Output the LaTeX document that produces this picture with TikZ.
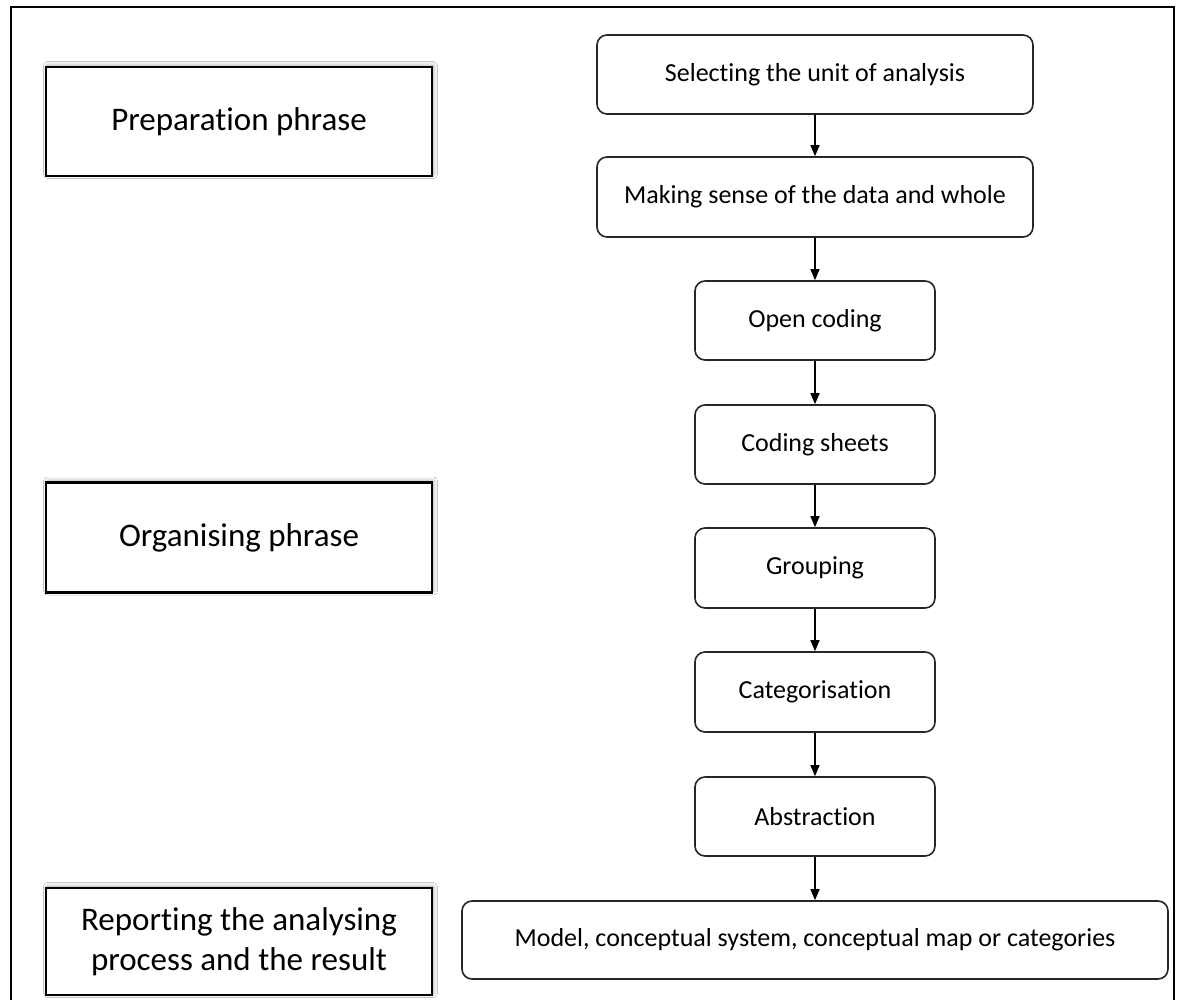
\documentclass[tikz,border=0pt]{standalone}
\usepackage{fontspec}
\setmainfont{Carlito}[Ligatures={NoCommon}]
\usetikzlibrary{arrows.meta,shadows.blur}
\tikzset{
  phasebox/.style={draw=black, line width=2.4pt, fill=white, inner sep=0pt,
    align=center, font=\fontsize{33}{40}\selectfont,
    blur shadow={shadow xshift=1.5pt, shadow yshift=1.5pt, shadow blur radius=4pt, shadow blur steps=8, shadow opacity=35}},
  stepbox/.style={draw=black!85, line width=1.6pt, rounded corners=10pt, fill=white,
    inner sep=0pt, align=center, font=\fontsize{26}{31}\selectfont},
  flow/.style={line width=1.3pt, -{Triangle[length=11pt,width=9pt]}},
  frameline/.style={line width=2pt}
}
\begin{document}
\begin{tikzpicture}[x=1pt,y=-1pt]
\useasboundingbox (0,0) rectangle (1183,1000);
\fill[white] (0,0) rectangle (1183,1000);
\draw[frameline] (11,1001) -- (11,7) -- (1174,7) -- (1174,1001);

% left phase boxes
\node[phasebox, minimum width=386pt, minimum height=109pt] (prep) at (239,121.5) {Preparation phrase};
\node[phasebox, minimum width=386pt, minimum height=110pt] (org) at (239,537.5) {Organising phrase};
\node[phasebox, minimum width=386pt, minimum height=107pt] (rep) at (239,941.5) {Reporting the analysing\\process and the result};

% right steps
\node[stepbox, minimum width=436pt, minimum height=79pt] (sel) at (815,74.5) {Selecting the unit of analysis};
\node[stepbox, minimum width=436pt, minimum height=80pt] (mk) at (815,197) {Making sense of the data and whole};
\node[stepbox, minimum width=240pt, minimum height=79pt] (open) at (815,320.5) {Open coding};
\node[stepbox, minimum width=240pt, minimum height=79pt] (cs) at (815,444.5) {Coding sheets};
\node[stepbox, minimum width=240pt, minimum height=80pt] (grp) at (815,568) {Grouping};
\node[stepbox, minimum width=240pt, minimum height=80pt] (cat) at (815,692) {Categorisation};
\node[stepbox, minimum width=240pt, minimum height=79pt] (abs) at (815,816.5) {Abstraction};
\node[stepbox, minimum width=706pt, minimum height=78pt] (model) at (815,940) {Model, conceptual system, conceptual map or categories};

\draw[flow] (sel) -- (mk);
\draw[flow] (mk) -- (open);
\draw[flow] (open) -- (cs);
\draw[flow] (cs) -- (grp);
\draw[flow] (grp) -- (cat);
\draw[flow] (cat) -- (abs);
\draw[flow] (abs) -- (model);
\end{tikzpicture}
\end{document}
